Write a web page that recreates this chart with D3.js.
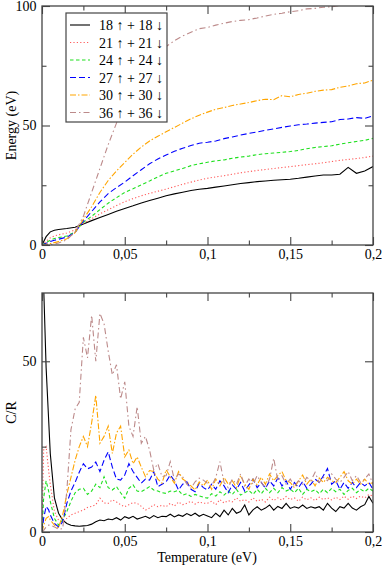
<!DOCTYPE html>
<html>
<head>
<meta charset="utf-8">
<script src="https://cdn.jsdelivr.net/npm/d3@7/dist/d3.min.js"></script>
<style>
  body { margin: 0; background: #fff; }
  text { font-family: "Liberation Serif", "DejaVu Serif", serif; }
</style>
</head>
<body>
<script>
// temperature grid of the energy curves (eV)
var tE = [0, 0.0025, 0.005, 0.0075, 0.01, 0.015, 0.02, 0.025, 0.03, 0.035, 0.04, 0.045, 0.05,
  0.055, 0.06, 0.065, 0.07, 0.075, 0.08, 0.085, 0.09, 0.095, 0.1, 0.105, 0.11, 0.115, 0.12,
  0.125, 0.13, 0.135, 0.14, 0.145, 0.15, 0.155, 0.16, 0.165, 0.17, 0.175, 0.18, 0.185, 0.19, 0.195, 0.2];

var e18 = [0, 3.5, 5.5, 6.2, 6.5, 6.9, 7.4, 8.8, 10.2, 11.5, 12.8, 14.1, 15.3, 16.4, 17.6, 18.6, 19.6, 20.6,
  21.4, 22.1, 22.8, 23.3, 23.7, 24.2, 24.7, 25.2, 25.7, 26.1, 26.5, 26.8, 27.1, 27.3, 27.5, 27.9, 28.4,
  28.9, 29.3, 29.3, 29.6, 32.5, 30.0, 31.0, 32.8];
var e21 = [0, 1.5, 3, 3.8, 4.3, 5.0, 6.3, 9.0, 11, 13, 14.8, 16.5, 18.1, 19.4, 20.6, 21.6, 22.5, 23.4, 24.4,
  25.4, 26.3, 27.2, 27.9, 28.5, 29, 29.6, 30.2, 30.7, 31.2, 31.6, 32, 32.4, 32.8, 33.2, 33.6, 34, 34.4,
  34.9, 35.4, 35.8, 36.2, 36.6, 37.2];
var e24 = [0, 1, 2, 2.7, 3.1, 3.8, 5.5, 9.5, 12, 14.8, 17.5, 19.8, 22, 23.5, 25.2, 26.8, 28.5, 30, 31, 32,
  33.2, 34, 34.6, 35.2, 35.6, 36.3, 36.8, 37.2, 37.8, 38.2, 38.5, 38.8, 39.1, 39.6, 40.3, 40.8, 41.2,
  41.5, 42.2, 42.8, 43.3, 43.8, 44.6];
var e27 = [0, 0.7, 1.5, 2.0, 2.4, 3.3, 5.3, 10, 14, 18, 21.5, 24, 26.3, 29, 31.5, 34, 36, 37.7, 39.2, 40.5,
  41.6, 42.6, 43, 43.5, 44.5, 45.2, 46, 46.7, 47.3, 48, 48.6, 49.2, 49.8, 50.3, 50.6, 51, 51.3, 51.6,
  52.5, 52.7, 53.3, 53, 54];
var e30 = [0, 0.3, 0.6, 1.0, 1.4, 2.6, 5.2, 10.8, 16, 22, 27, 31, 34.5, 38, 41, 43.5, 45.5, 47.4, 49.2, 51,
  52.8, 54.3, 55.6, 56.8, 57.5, 58.4, 59, 59.6, 60.4, 61, 60.8, 62.5, 62, 63, 63.5, 64.3, 64.8, 65, 66,
  66.5, 67.5, 67.8, 69];
var e36 = [0, 0.1, 0.2, 0.4, 0.8, 2.2, 5.5, 12, 22, 32, 42, 51, 58, 64, 70, 75, 80, 83, 85.5, 87.5, 89,
  90.5, 91, 92, 92.8, 93.5, 94, 94.3, 95, 95.8, 96.5, 97, 97.6, 98, 98.8, 99, 99.5, 99.7, 100.2, 100.5,
  101, 101.3, 101.8];

// temperature grid of the specific heat curves (eV)
var tC = [0, 0.001, 0.0025, 0.004, 0.005, 0.0075, 0.01,
  0.0125, 0.015, 0.0175, 0.02, 0.0225, 0.025, 0.0275, 0.03, 0.0325, 0.035, 0.0375, 0.04, 0.0425, 0.045,
  0.0475, 0.05, 0.0525, 0.055, 0.0575, 0.06, 0.0625, 0.065, 0.0675, 0.07, 0.0725, 0.075, 0.0775, 0.08,
  0.0825, 0.085, 0.0875, 0.09, 0.0925, 0.095, 0.0975, 0.1,
  0.1025, 0.105, 0.1075, 0.11, 0.1125, 0.115, 0.1175, 0.12, 0.1225, 0.125, 0.1275, 0.13, 0.1325, 0.135,
  0.1375, 0.14, 0.1425, 0.145, 0.1475, 0.15, 0.1525, 0.155, 0.1575, 0.16, 0.1625, 0.165, 0.1675, 0.17,
  0.1725, 0.175, 0.1775, 0.18, 0.1825, 0.185, 0.1875, 0.19, 0.1925, 0.195, 0.1975, 0.2];

var c18 = [90, 72, 48, 33, 23, 10, 5.5,
  3.5, 2.5, 2, 1.8, 1.7, 1.8, 1.9, 2.3, 3, 3.5, 3.3, 3.8, 3.6, 4.2, 3.5, 4.5, 4, 4.6, 3.8, 4.2,
  4.6, 4, 4.8, 4.2, 4.6, 4.5, 5.2, 4.4, 5, 4.6, 5.4, 4.8, 5.5, 4.6, 5.2, 4.7,
  4.2, 5.5, 4.5, 6.4, 5, 6.9, 5.5, 6, 7.9, 5, 6.5, 7.4, 6.4, 7, 7.9, 6.4, 7.5, 6.9, 8.4, 6.9,
  7.4, 7, 7.9, 6.9, 7.4, 7, 7.4, 6.4, 8.4, 7, 6, 7.4, 7, 8.4, 7, 6.4, 7.4, 8, 10.4, 8.4];
var c21 = [0, 24, 25, 18, 14, 6, 3.5,
  3, 4, 5, 5.5, 6, 6.4, 7.2, 7.5, 8, 9.9, 8.5, 8.4, 9.4, 8.8, 8, 7.4, 8, 8.6, 8.4, 7.5,
  6.4, 7, 8, 7.4, 7.8, 7.4, 8.4, 7.6, 8.8, 8, 8.4, 9, 8.2, 8.8, 8.4, 8.4,
  9, 8, 9.5, 8.5, 9.2, 8.8, 10, 9, 9.5, 8.8, 10, 9, 9.6, 8.8, 10.2, 9.2, 10, 9.3, 10.4, 9.5,
  10, 9, 10.2, 9.4, 10, 9.2, 10.2, 9.5, 10, 9.4, 10.2, 9.5, 10.5, 9.6, 10.5, 9.8, 10.5, 10, 11, 10.5];
var c24 = [0, 10, 15, 12, 9, 4, 2,
  3.5, 6, 9, 11.5, 12.5, 12.8, 11, 12, 14, 13, 16.2, 13, 12.3, 13.3, 11.5, 9.9, 12.8, 13.8, 12, 11.8,
  12.5, 13.3, 12.3, 12, 11.5, 11.3, 12, 11.8, 12.2, 10.8, 11.2, 10.4, 11, 10.6, 10.2, 9.9,
  11.2, 10.5, 11.8, 10.8, 12, 11, 12.5, 10.8, 11.5, 12.2, 11, 12.5, 11.2, 12.8, 11.5, 12.8, 11.5, 13, 12, 12.6,
  11.5, 12.8, 11, 12.5, 11.8, 12.4, 11.2, 12.5, 11.5, 12.8, 11.8, 12.5, 11, 12.2, 12.8, 11.5, 12.5, 11.8, 12.8, 12];
var c27 = [0, 4, 7.5, 6.5, 5, 2.5, 1.5,
  3, 8.4, 12, 14.5, 17.5, 20, 18.5, 19, 20.5, 17.7, 21, 23.5, 19, 15.5, 15.2, 16.7, 20, 17.7, 16, 14.3,
  15.5, 15.2, 17.7, 13.3, 14, 14.7, 16.7, 15, 12.3, 14, 14.7, 12.5, 11.8, 14.3, 13, 12.3,
  14, 12.5, 15, 13.5, 11.5, 13.8, 12.5, 14.5, 12, 13.8, 15.5, 13, 14.5, 12.8, 15, 13.5, 15.8, 13.5, 15, 12.5,
  14.5, 13, 14.8, 12.8, 14, 15.5, 14.5, 16.5, 18.6, 14, 15, 12.5, 14.5, 12.8, 14.5, 13, 14.5, 13.5, 14.5, 12.5];
var c30 = [0, 2, 4, 4.5, 3.5, 2, 1.2,
  5, 11, 16, 21, 25, 28, 25, 32, 40, 26, 28, 31, 23, 29, 31, 22, 24, 20, 22, 19,
  16.2, 18, 17.7, 15.5, 14.3, 18.2, 16.2, 14.3, 17.7, 15.5, 14.7, 13.5, 12.3, 14.7, 13.5, 15.2,
  12.5, 15.5, 13.5, 16, 14, 15, 13, 16.5, 14, 12.5, 15.5, 13.8, 16, 14, 17, 15, 16.5, 17.7, 15, 14.5,
  13, 15, 16.7, 14, 15.5, 13.5, 15.8, 14.5, 16, 15, 14.5, 16, 17.7, 15, 14, 15.5, 14, 15.5, 14, 14.5];
var c36 = [0, 0.5, 1.5, 2, 2, 1.5, 0.8,
  1, 12, 30, 36, 38, 57, 51, 63.5, 50, 64, 61, 53, 46, 49, 39, 44, 31, 28, 36.7, 26,
  28, 24, 18.2, 20, 16.2, 16.5, 20.6, 15.2, 17, 16.2, 14, 12.8, 14.7, 15.8, 15.2, 14.3,
  13.5, 16, 20.6, 14.5, 13, 15.5, 14, 17, 13.5, 15.5, 14, 16.5, 14.5, 13, 15.5, 21.6, 15, 16.5, 14, 15.5,
  13.5, 15, 14, 16, 15, 17.5, 14.5, 16, 15, 17, 15.5, 14.5, 16, 17.7, 15, 16.5, 14.5, 15.5, 17, 14];

var names = ["18 \u2191 + 18 \u2193", "21 \u2191 + 21 \u2193", "24 \u2191 + 24 \u2193",
             "27 \u2191 + 27 \u2193", "30 \u2191 + 30 \u2193", "36 \u2191 + 36 \u2193"];
var energies = [e18, e21, e24, e27, e30, e36];
var heats = [c18, c21, c24, c27, c30, c36];

var xMajor = [0, 0.05, 0.1, 0.15, 0.2];
var xMinor = [0.025, 0.075, 0.125, 0.175];
var xTickLabels = ["0", "0,05", "0,1", "0,15", "0,2"];

var colors = ["#000000", "#ff5a5a", "#1fe01f", "#0000ff", "#ffa500", "#bc8a8a"];
var dashes = [null, "1.2,2.2", "3.5,2.5", "6,3", "6,2,1.5,2", "6,3,1.5,3"];

var W = 382, H = 566;
var svg = d3.select("body").append("svg").attr("width", W).attr("height", H);

var x0 = 42, x1 = 373;

function panel(id, top, bottom, yMax, yMajor, yMinor, series, tArr, yTitle) {
  var x = d3.scaleLinear().domain([0, 0.2]).range([x0, x1]);
  var y = d3.scaleLinear().domain([0, yMax]).range([bottom, top]);

  svg.append("clipPath").attr("id", id)
    .append("rect").attr("x", x0).attr("y", top).attr("width", x1 - x0).attr("height", bottom - top);

  var g = svg.append("g").attr("clip-path", "url(#" + id + ")");
  var line = d3.line()
    .x(function(d, i) { return x(tArr[i]); })
    .y(function(d) { return y(d); });

  g.selectAll("path")
    .data(series)
    .enter().append("path")
    .attr("d", function(d) { return line(d); })
    .attr("fill", "none")
    .attr("stroke", function(d, i) { return colors[i]; })
    .attr("stroke-width", 1.1)
    .attr("stroke-dasharray", function(d, i) { return dashes[i]; });

  // axes, ticks pointing into the frame on every side
  function ax(gen, tr, vals, size, fmt) {
    var a = svg.append("g").attr("transform", tr)
      .call(gen.tickValues(vals).tickSize(-size).tickPadding(fmt ? 4 : 0)
        .tickFormat(fmt || function() { return ""; }));
    a.select(".domain").remove();
    a.selectAll("line").attr("stroke", "#444").attr("stroke-width", 1.1);
    a.selectAll("text").attr("font-size", 14).attr("fill", "#000")
      .style("font-family", "'Liberation Serif', serif");
    return a;
  }
  ax(d3.axisBottom(x), "translate(0," + bottom + ")", xMajor, 8,
    function(d, i) { return xTickLabels[i]; }).selectAll("text").attr("dy", "0.72em");
  ax(d3.axisBottom(x), "translate(0," + bottom + ")", xMinor, 4.5);
  ax(d3.axisTop(x), "translate(0," + top + ")", xMajor, 8);
  ax(d3.axisTop(x), "translate(0," + top + ")", xMinor, 4.5);
  ax(d3.axisLeft(y), "translate(" + x0 + ",0)", yMajor, 8, function(d) { return String(d); })
    .selectAll("text").attr("dx", "-0.1em");
  ax(d3.axisLeft(y), "translate(" + x0 + ",0)", yMinor, 4.5);
  ax(d3.axisRight(y), "translate(" + x1 + ",0)", yMajor, 8);
  ax(d3.axisRight(y), "translate(" + x1 + ",0)", yMinor, 4.5);

  svg.append("rect")
    .attr("x", x0).attr("y", top).attr("width", x1 - x0).attr("height", bottom - top)
    .attr("fill", "none").attr("stroke", "#444").attr("stroke-width", 1.3);

  svg.append("text")
    .attr("transform", "translate(16," + ((top + bottom) / 2) + ") rotate(-90)")
    .attr("text-anchor", "middle")
    .attr("font-size", 14)
    .text(yTitle);
}

panel("clipTop", 6, 245, 100, [0, 50, 100], [25, 75], energies, tE, "Energy (eV)");
panel("clipBot", 293, 532, 70, [0, 50], [25], heats, tC, "C/R");

svg.append("text")
  .attr("x", 207).attr("y", 562)
  .attr("text-anchor", "middle")
  .attr("font-size", 14)
  .text("Temperature (eV)");

// legend
var leg = svg.append("g");
leg.append("rect")
  .attr("x", 66).attr("y", 13).attr("width", 101).attr("height", 109)
  .attr("fill", "#fff").attr("stroke", "#444").attr("stroke-width", 1.2);
var rows = leg.selectAll("g.row")
  .data(names)
  .enter().append("g").attr("class", "row")
  .attr("transform", function(d, i) { return "translate(0," + (25 + i * 17.5) + ")"; });
rows.append("line")
  .attr("x1", 70).attr("x2", 90).attr("y1", 0).attr("y2", 0)
  .attr("stroke", function(d, i) { return colors[i]; })
  .attr("stroke-width", 1.1)
  .attr("stroke-dasharray", function(d, i) { return dashes[i]; });
rows.append("text")
  .attr("x", 99).attr("y", 5)
  .attr("font-size", 14)
  .text(function(d) { return d; });
</script>
</body>
</html>
